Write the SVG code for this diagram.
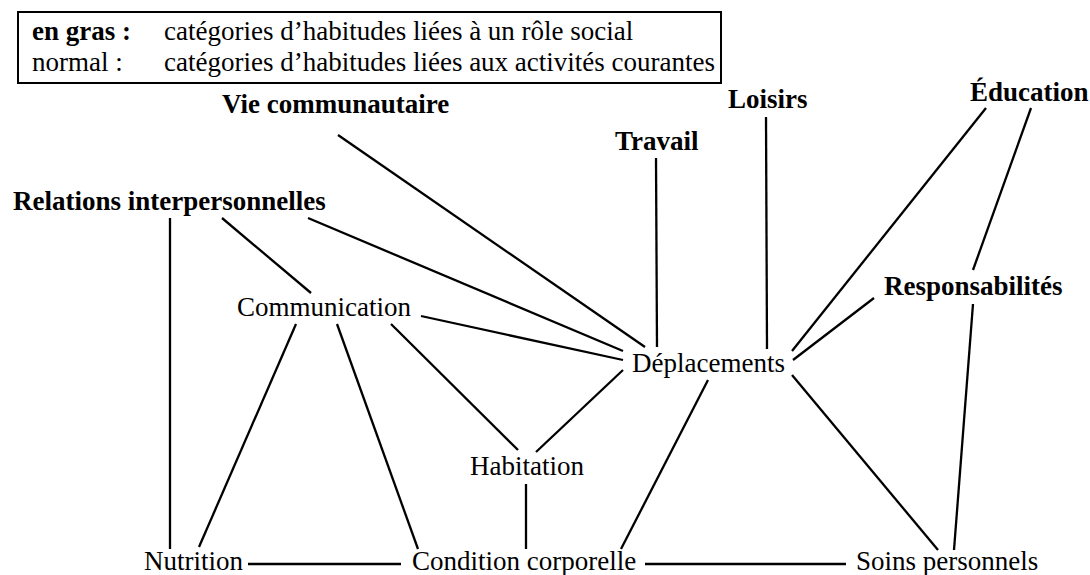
<svg xmlns="http://www.w3.org/2000/svg" width="1090" height="575" viewBox="0 0 1090 575">
<style>
text{font-family:"Liberation Serif","Times New Roman",serif;font-size:27px;fill:#000}
.b{font-weight:bold}
.c line{stroke:#000;stroke-width:2.3;stroke-linecap:butt}
</style>
<rect width="1090" height="575" fill="#fff"/>
<g id="legende">
<rect x="18" y="12" width="703" height="71" fill="none" stroke="#000" stroke-width="2"/>
<text x="32" y="40" class="b">en gras :</text>
<text x="164" y="40">catégories d’habitudes liées à un rôle social</text>
<text x="32" y="71">normal :</text>
<text x="164" y="71">catégories d’habitudes liées aux activités courantes</text>
</g>
<g class="c" id="connecteurs">
<line x1="338" y1="135" x2="645" y2="347"/>
<line x1="308" y1="218" x2="623" y2="351"/>
<line x1="222" y1="218" x2="311" y2="293"/>
<line x1="170" y1="218" x2="170" y2="549"/>
<line x1="421" y1="316" x2="623" y2="360"/>
<line x1="296" y1="324" x2="199" y2="547"/>
<line x1="337" y1="324" x2="418" y2="549"/>
<line x1="391" y1="324" x2="518" y2="450"/>
<line x1="623" y1="370" x2="536" y2="452"/>
<line x1="526" y1="484" x2="526" y2="549"/>
<line x1="708" y1="380" x2="621" y2="549"/>
<line x1="248" y1="564" x2="401" y2="564"/>
<line x1="645" y1="564" x2="846" y2="564"/>
<line x1="792" y1="375" x2="938" y2="550"/>
<line x1="973" y1="304" x2="954" y2="550"/>
<line x1="874" y1="298" x2="793" y2="360"/>
<line x1="986" y1="108" x2="792" y2="351"/>
<line x1="1031" y1="108" x2="973" y2="270"/>
<line x1="766" y1="117" x2="767" y2="349"/>
<line x1="656" y1="158" x2="657" y2="347"/>
</g>
<g id="vie-communautaire"><text x="222" y="113" class="b">Vie communautaire</text></g>
<g id="relations-interpersonnelles"><text x="13" y="210" class="b">Relations interpersonnelles</text></g>
<g id="travail"><text x="615" y="150" class="b">Travail</text></g>
<g id="loisirs"><text x="728" y="108" class="b">Loisirs</text></g>
<g id="education"><text x="970" y="101" class="b">Éducation</text></g>
<g id="responsabilites"><text x="884" y="295" class="b">Responsabilités</text></g>
<g id="communication"><text x="237" y="316">Communication</text></g>
<g id="deplacements"><text x="632" y="372">Déplacements</text></g>
<g id="habitation"><text x="470" y="475">Habitation</text></g>
<g id="nutrition"><text x="144" y="570">Nutrition</text></g>
<g id="condition-corporelle"><text x="412" y="570">Condition corporelle</text></g>
<g id="soins-personnels"><text x="856" y="570">Soins personnels</text></g>
</svg>
